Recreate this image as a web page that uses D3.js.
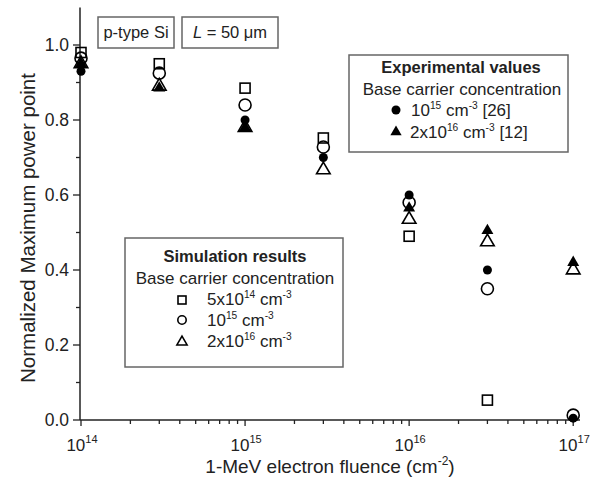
<!DOCTYPE html>
<html><head><meta charset="utf-8">
<script src="https://cdn.jsdelivr.net/npm/d3@7"></script>
<style>body{margin:0;background:#fff}svg{display:block}text{font-family:"Liberation Sans",Arial,sans-serif;fill:#222}</style>
</head><body><svg id="c" width="598" height="481"></svg>
<script>
const fluence = [1e14, 3e14, 1e15, 3e15, 1e16, 3e16, 1e17];
const sim5e14 = [0.98, 0.95, 0.885, 0.752, 0.49, 0.053, null];
const sim1e15 = [0.965, 0.925, 0.84, 0.728, 0.58, 0.35, 0.013];
const sim2e16 = [0.95, 0.89, 0.78, 0.667, 0.535, 0.475, 0.40];
const exp1e15 = [0.93, null, 0.80, 0.70, 0.60, 0.40, 0.005];
const exp2e16 = [0.95, 0.885, 0.78, null, 0.565, 0.505, 0.42];
const yTicks = [0, 0.2, 0.4, 0.6, 0.8, 1.0];
const xTickExps = [14, 15, 16, 17];

const svg = d3.select("#c");
const x = d3.scaleLog().domain([1e14, 1.1e17]).range([81, 580]);
const y = d3.scaleLinear().domain([0, 1.1]).range([420, 7.5]);
const ink = "#222";

// axes
const gx = svg.append("g").attr("transform", "translate(0,420)");
gx.append("line").attr("x1", x.range()[0]-1).attr("x2", x.range()[1]).attr("stroke", ink).attr("stroke-width", 1.5);
const minorX = [];
for (let e = 14; e <= 16; e++) for (let m = 1; m <= 9; m++) minorX.push(m * Math.pow(10, e));
minorX.push(1e17);
gx.selectAll("line.t").data(minorX).join("line").attr("class","t")
  .attr("x1", d => x(d)).attr("x2", d => x(d)).attr("y1", 0)
  .attr("y2", d => (Math.abs(Math.log10(d) - Math.round(Math.log10(d))) < 1e-9) ? 6 : 4)
  .attr("stroke", ink).attr("stroke-width", 1.3);
const xl = gx.selectAll("text.tl").data(xTickExps).join("text").attr("class","tl")
  .attr("x", d => x(Math.pow(10, d)) + 1).attr("y", 31).attr("text-anchor","middle").style("font-size","17px");
xl.append("tspan").text("10");
xl.append("tspan").attr("dy", -8).style("font-size","11px").text(d => d);

const gy = svg.append("g");
gy.append("line").attr("x1", 80).attr("x2", 80).attr("y1", 420).attr("y2", y(1.1)).attr("stroke", ink).attr("stroke-width", 1.5);
const minorY = d3.range(0, 11).map(i => i / 10);
gy.selectAll("line.t").data(minorY).join("line").attr("class","t")
  .attr("x1", d => (Math.round(d*10) % 2 === 0) ? 73 : 76).attr("x2", 80)
  .attr("y1", d => y(d)).attr("y2", d => y(d)).attr("stroke", ink).attr("stroke-width", 1.3);
gy.selectAll("text").data(yTicks).join("text")
  .attr("x", 69).attr("y", d => y(d) + 6).attr("text-anchor","end").style("font-size","17.5px")
  .text(d => d3.format(".1f")(d));

// axis titles
const xt = svg.append("text").attr("x", 330).attr("y", 473).attr("text-anchor","middle").style("font-size","19px");
xt.append("tspan").text("1-MeV electron fluence (cm");
xt.append("tspan").attr("dy", -8).style("font-size","12px").text("-2");
xt.append("tspan").attr("dy", 8).text(")");
svg.append("text").attr("transform","translate(35,228) rotate(-90)").attr("text-anchor","middle")
  .style("font-size","20.5px").text("Normalized Maximum power point");

// markers
const sq = 10, cr = 6;
const tri = d3.symbol().type(d3.symbolTriangle);
function pts(arr) { return fluence.map((f, i) => ({f, v: arr[i]})).filter(d => d.v !== null); }
const gm = svg.append("g");
gm.selectAll("path.et").data(pts(exp2e16)).join("path").attr("class","et")
  .attr("d", tri.size(62)()).attr("transform", d => `translate(${x(d.f)},${y(d.v)})`).attr("fill", "#000");
gm.selectAll("circle.ec").data(pts(exp1e15)).join("circle").attr("class","ec")
  .attr("cx", d => x(d.f)).attr("cy", d => y(d.v)).attr("r", 4.5).attr("fill", "#000");
gm.selectAll("rect.s").data(pts(sim5e14)).join("rect").attr("class","s")
  .attr("x", d => x(d.f) - sq/2).attr("y", d => y(d.v) - sq/2).attr("width", sq).attr("height", sq)
  .attr("fill","none").attr("stroke","#000").attr("stroke-width",1.6);
gm.selectAll("circle.s").data(pts(sim1e15)).join("circle").attr("class","s")
  .attr("cx", d => x(d.f)).attr("cy", d => y(d.v)).attr("r", cr)
  .attr("fill","none").attr("stroke","#000").attr("stroke-width",1.6);
gm.selectAll("path.st").data(pts(sim2e16)).join("path").attr("class","st")
  .attr("d", tri.size(80)()).attr("transform", d => `translate(${x(d.f)},${y(d.v)})`)
  .attr("fill","none").attr("stroke","#000").attr("stroke-width",1.6);

// helper for rich text
function rich(g, xx, yy, segs, size, anchor) {
  const t = g.append("text").attr("x", xx).attr("y", yy).style("font-size", size + "px").attr("text-anchor", anchor || "start");
  let shifted = false;
  segs.forEach(s => {
    const sp = t.append("tspan").text(s.t);
    if (s.sup && !shifted) { sp.attr("dy", -size*0.4).style("font-size", (size*0.6)+"px"); shifted = true; }
    else if (!s.sup && shifted) { sp.attr("dy", size*0.4); shifted = false; }
    else if (s.sup) sp.style("font-size", (size*0.6)+"px");
  });
  return t;
}

// label boxes
const boxStroke = "#666";
function box(x0, y0, w, h) {
  svg.append("rect").attr("x", x0).attr("y", y0).attr("width", w).attr("height", h)
    .attr("fill","#fff").attr("stroke", boxStroke).attr("stroke-width", 1.5);
}
box(98, 17, 76, 31);
svg.append("text").attr("x", 136).attr("y", 38).attr("text-anchor","middle").style("font-size","16.5px").text("p-type Si");
box(182, 17, 96, 31);
const lt = svg.append("text").attr("x", 230).attr("y", 38).attr("text-anchor","middle").style("font-size","16.5px");
lt.append("tspan").style("font-style","italic").text("L");
lt.append("tspan").text(" = 50 \u03bcm");

// experimental legend
box(349, 55, 219, 97);
const ge = svg.append("g");
ge.append("text").attr("x", 461).attr("y", 73).attr("text-anchor","middle").style("font-size","16.5px").style("font-weight","bold").text("Experimental values");
ge.append("text").attr("x", 462).attr("y", 95).attr("text-anchor","middle").style("font-size","17px").text("Base carrier concentration");
ge.append("circle").attr("cx", 396).attr("cy", 110).attr("r", 4.5).attr("fill","#000");
rich(ge, 411, 116, [{t:"10"},{t:"15",sup:true},{t:" cm"},{t:"-3",sup:true},{t:" [26]"}], 17);
ge.append("path").attr("d", tri.size(55)()).attr("transform","translate(396,132)").attr("fill","#000");
rich(ge, 410, 138, [{t:"2x10"},{t:"16",sup:true},{t:" cm"},{t:"-3",sup:true},{t:" [12]"}], 17);

// simulation legend
box(125, 238, 218, 129);
const gs = svg.append("g");
gs.append("text").attr("x", 235).attr("y", 262).attr("text-anchor","middle").style("font-size","16.5px").style("font-weight","bold").text("Simulation results");
gs.append("text").attr("x", 235).attr("y", 284).attr("text-anchor","middle").style("font-size","17px").text("Base carrier concentration");
gs.append("rect").attr("x", 178).attr("y", 296).attr("width", 8).attr("height", 8).attr("fill","none").attr("stroke","#000").attr("stroke-width",1.6);
rich(gs, 207, 305, [{t:"5x10"},{t:"14",sup:true},{t:" cm"},{t:"-3",sup:true}], 17);
gs.append("circle").attr("cx", 182).attr("cy", 320).attr("r", 4.2).attr("fill","none").attr("stroke","#000").attr("stroke-width",1.6);
rich(gs, 207, 326, [{t:"10"},{t:"15",sup:true},{t:" cm"},{t:"-3",sup:true}], 17);
gs.append("path").attr("d", tri.size(45)()).attr("transform","translate(182,342)").attr("fill","none").attr("stroke","#000").attr("stroke-width",1.6);
rich(gs, 207, 347, [{t:"2x10"},{t:"16",sup:true},{t:" cm"},{t:"-3",sup:true}], 17);
</script></body></html>
